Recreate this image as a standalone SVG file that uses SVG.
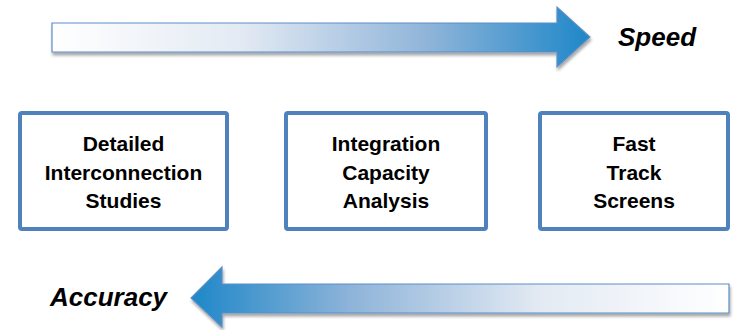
<svg xmlns="http://www.w3.org/2000/svg" width="735" height="330" viewBox="0 0 735 330">
<defs>
<linearGradient id="gR" x1="52" y1="0" x2="590" y2="0" gradientUnits="userSpaceOnUse">
<stop offset="0" stop-color="#ffffff"/>
<stop offset="0.35" stop-color="#e3eaf3"/>
<stop offset="0.7" stop-color="#8fb4d9"/>
<stop offset="1" stop-color="#1e87c8"/>
</linearGradient>
<linearGradient id="gL" x1="729" y1="0" x2="191" y2="0" gradientUnits="userSpaceOnUse">
<stop offset="0" stop-color="#ffffff"/>
<stop offset="0.35" stop-color="#e3eaf3"/>
<stop offset="0.7" stop-color="#8fb4d9"/>
<stop offset="1" stop-color="#1e87c8"/>
</linearGradient>
<filter id="sh" x="-5%" y="-30%" width="110%" height="160%">
<feGaussianBlur in="SourceAlpha" stdDeviation="1.5"/>
<feOffset dx="1" dy="3" result="b"/>
<feComponentTransfer><feFuncA type="linear" slope="0.35"/></feComponentTransfer>
<feMerge><feMergeNode/><feMergeNode in="SourceGraphic"/></feMerge>
</filter>
</defs>
<style>
.box{fill:#ffffff;stroke:#4f81bd;stroke-width:4}
.lbl{font-family:"Liberation Sans",Arial,sans-serif;font-weight:bold;font-size:21px;fill:#000;text-anchor:middle}
.ax{font-family:"Liberation Sans",Arial,sans-serif;font-weight:bold;font-style:italic;font-size:26px;fill:#000}
.arr{stroke:#5b8ec7;stroke-width:1.2}
</style>
<g id="connectors">
<path id="speed-arrow" class="arr" filter="url(#sh)" fill="url(#gR)" d="M52,23 L557,23 L557,7 L590,37 L557,67 L557,52 L52,52 Z"/>
<path id="accuracy-arrow" class="arr" filter="url(#sh)" fill="url(#gL)" d="M729,284 L222,284 L222,267 L191,298 L222,327 L222,313 L729,313 Z"/>
</g>
<text class="ax" x="618" y="46">Speed</text>
<text class="ax" x="50" y="306">Accuracy</text>
<g id="node1">
<rect class="box" x="20" y="113" width="207" height="116" rx="2"/>
<text class="lbl" x="123.5" y="151">Detailed</text>
<text class="lbl" x="123.5" y="180">Interconnection</text>
<text class="lbl" x="123.5" y="208">Studies</text>
</g>
<g id="node2">
<rect class="box" x="286" y="113" width="200" height="116" rx="2"/>
<text class="lbl" x="386" y="151">Integration</text>
<text class="lbl" x="386" y="180">Capacity</text>
<text class="lbl" x="386" y="208">Analysis</text>
</g>
<g id="node3">
<rect class="box" x="540" y="113" width="188" height="116" rx="2"/>
<text class="lbl" x="634" y="151">Fast</text>
<text class="lbl" x="634" y="180">Track</text>
<text class="lbl" x="634" y="208">Screens</text>
</g>
</svg>
